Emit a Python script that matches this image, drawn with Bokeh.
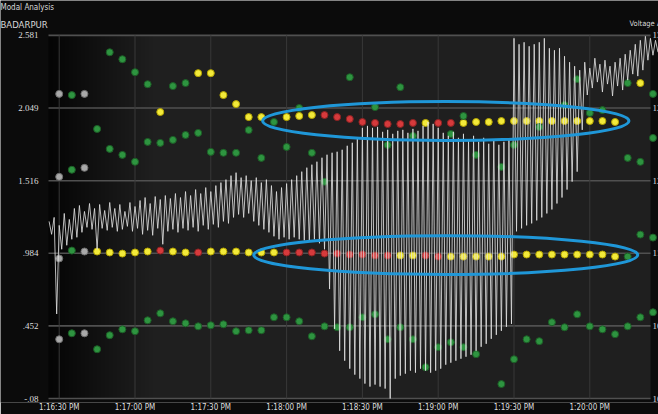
import numpy as np
import pandas as pd
from bokeh.plotting import figure
from bokeh.models import Range1d, FixedTicker, ColumnDataSource, Label, LabelSet
from bokeh.embed import file_html
from bokeh.resources import INLINE

DAY = "2014-06-10 "

def ms(t):
    return pd.Timestamp(DAY + t).value / 1e6

# ---------------- axes ----------------
x_tick_times = ["13:16:30", "13:17:00", "13:17:30", "13:18:00", "13:18:30",
                "13:19:00", "13:19:30", "13:20:00"]
x_tick_labels = ["1:16:30 PM", "1:17:00 PM", "1:17:30 PM", "1:18:00 PM", "1:18:30 PM",
                 "1:19:00 PM", "1:19:30 PM", "1:20:00 PM"]
y_ticks = [-0.08, 0.452, 0.984, 1.516, 2.049, 2.581]
y_tick_labels = ["-.08", ".452", ".984", "1.516", "2.049", "2.581"]
volt_ticks = [100.0, 107.3, 114.6, 121.9, 129.2, 136.5]
volt_tick_labels = ["100.0", "107.3", "114.6", "121.9", "129.2", "136.5"]
title_text = "Modal Analysis"
station_text = "BADARPUR"
volt_title = "Voltage A"

# ---------------- modal dots (5 s slots) ----------------
slot_start = "13:16:30"
slot_step_s = 5
n_slots = 48

mode1_slot = [0, 1, 2] + list(range(4, 48))
mode1_val = [2.152, 2.143, 2.152,
             2.457, 2.406, 2.311, 2.223, 2.019, 2.209, 2.231,
             2.304, 2.304, 2.143, 2.077, 1.982, 1.982, 1.946, 1.982, 1.990, 1.997,
             1.997, 1.982, 1.968, 1.946, 1.939, 1.931, 1.931, 1.939, 1.939, 1.939,
             1.939, 1.939, 1.946, 1.946, 1.953, 1.953, 1.953, 1.953, 1.953, 1.953,
             1.953, 1.953, 1.953, 1.946,
             2.231, 2.231, 2.152]
mode1_col = "gGg" + "GGGGyGG" + "yyyyyyGyyy" + "rrrrrrrryr" + "ryyyyyyyyy" + "yyyy" + "GyG"

mode2_slot = list(range(0, 17)) + [18, 19, 20, 21, 23, 25, 26, 27, 28,
                                   31, 32, 33, 35, 36, 38, 40, 41, 42, 43, 45, 46, 47]
mode2_val = [1.544, 1.596, 1.610, 1.895, 1.749, 1.705, 1.654, 1.800, 1.793, 1.815,
             1.851, 1.866, 1.727, 1.720, 1.720, 1.887, 1.683,
             1.763, 2.048, 1.720, 1.508, 2.274, 2.055, 1.778, 2.201, 1.844,
             1.858, 1.990, 1.705, 1.617, 1.778, 1.909, 2.070, 2.260, 2.012, 2.033,
             1.683, 1.654, 1.829]
mode2_col = "gGg" + "G" * 36

mode3_slot = list(range(0, 46))
mode3_val = [0.946, 1.004, 0.997, 0.997, 0.990, 0.982, 0.990, 0.997, 1.004, 0.997,
             0.990, 0.990, 0.997, 0.997, 0.997, 0.990, 0.990, 0.990, 0.990, 0.990,
             0.990, 0.982, 0.982, 0.975, 0.975, 0.968, 0.968, 0.968, 0.968, 0.968,
             0.960, 0.960, 0.960, 0.960, 0.960, 0.960, 0.975, 0.975, 0.975, 0.975,
             0.975, 0.975, 0.975, 0.975, 0.960, 0.960]
mode3_col = "gGg" + "yyyyy" + "r" + "yy" + "r" + "yyyyyy" + "rrrrrrrrr" + "yy" + "rr" + "y" * 14 + "G"

mode4_slot = [46, 47]
mode4_val = [1.121, 1.099]
mode4_col = "GG"

mode5_slot = list(range(0, 34)) + list(range(35, 48))
mode5_val = [0.354, 0.398, 0.398, 0.281, 0.384, 0.427, 0.413, 0.493, 0.544, 0.486,
             0.471, 0.449, 0.457, 0.464, 0.413, 0.420, 0.420, 0.515, 0.515, 0.486,
             0.376, 0.449, 0.442, 0.442, 0.515, 0.537, 0.354, 0.442, 0.354, 0.150,
             0.296, 0.332, 0.296, 0.245,
             0.026, 0.208, 0.354, 0.340, 0.479, 0.442, 0.537, 0.449, 0.427, 0.391,
             0.449, 0.515, 0.552]
mode5_col = "gGg" + "G" * 44

# ---------------- voltage A trace (2 s cycles: high, low) ----------------
volt_start = "13:16:26"
volt_step_s = 1
volt_hi = [117.8, 118.2, 117.4, 118.6, 118.0, 119.1, 119.4, 118.8, 119.6, 119.1,
           119.5, 118.9, 119.7, 119.1, 119.5, 118.8, 119.7, 119.3, 119.9, 120.2,
           119.6, 120.3, 120.0, 120.4, 120.1, 120.6, 120.2, 120.8, 120.4, 121.0,
           120.6, 121.2, 120.8, 121.4, 121.7, 122.0, 122.4, 122.7, 122.2, 122.4,
           121.9, 122.2, 121.7, 122.0, 121.4, 120.8, 121.2, 121.6, 122.0, 122.4,
           122.8, 123.2, 123.5, 123.8, 124.2, 124.5, 124.7, 124.8, 125.0, 125.4,
           125.7, 126.2, 127.2, 127.4, 127.2, 127.3, 126.8, 127.0, 126.6, 126.9,
           127.0, 126.7, 127.1, 126.9, 127.4, 127.8, 127.6, 127.2, 126.7, 126.4,
           126.8, 126.2, 126.6, 126.0, 126.4, 125.8, 126.2, 125.6, 126.0, 125.5,
           125.8, 126.0, 136.2, 135.6, 135.8, 135.4, 135.6, 135.8, 136.2, 135.2,
           135.0, 135.2, 134.4, 133.8, 133.4, 133.0, 133.8, 133.2, 134.2, 133.6,
           134.0, 133.4, 133.8, 134.2, 134.6, 135.0, 135.6, 136.0, 136.4, 136.2,
           136.0]
volt_lo = [116.5, 108.5, 115.0, 115.4, 116.0, 116.2, 116.7, 117.2, 117.0, 115.0,
           117.1, 116.9, 117.2, 116.8, 117.0, 117.3, 116.8, 117.1, 116.5, 116.9,
           116.4, 117.1, 115.5, 116.8, 117.0, 116.7, 117.1, 116.9, 117.2, 116.8,
           117.4, 117.0, 117.5, 117.2, 117.8, 117.6, 118.2, 118.5, 118.2, 118.6,
           117.8, 117.4, 117.0, 116.7, 116.3, 116.0, 116.2, 116.0, 116.2, 116.0,
           115.9, 115.8, 116.0, 115.6, 115.0, 111.0, 107.0, 104.8, 103.8, 103.0,
           102.4, 102.0, 101.5, 101.2, 101.4, 101.2, 101.0, 100.0, 102.0, 102.3,
           102.5, 102.8, 102.6, 103.0, 102.8, 102.6, 102.8, 103.0, 103.4, 103.6,
           103.8, 104.0, 104.2, 104.4, 104.8, 105.2, 105.5, 106.0, 106.4, 106.8,
           107.2, 107.5, 116.8, 117.1, 117.4, 117.6, 117.9, 118.2, 118.6, 119.0,
           119.6, 120.2, 121.0, 121.8, 122.8, 127.0, 130.5, 131.2, 131.8, 130.8,
           131.6, 130.4, 131.4, 131.0, 132.0, 132.6, 132.4, 133.0, 134.0, 134.5,
           134.8]

# ---------------- highlight ellipses ----------------
ell_center = ["13:19:03", "13:19:03"]
ell_value = [1.953, 0.971]
ell_width_s = [145.0, 152.0]
ell_height = [0.285, 0.285]

# ---------------- styles / layout geometry ----------------
FILL = {"g": "#a9a9a9", "G": "#2e9440", "y": "#f3ea3a", "r": "#d63a3c"}
EDGE = {"g": "#6e6e6e", "G": "#1c5e26", "y": "#b4a400", "r": "#8c2222"}
FONT = "Liberation Sans Narrow, DejaVu Sans Condensed, sans-serif"
W, H, AXIS_H = 658, 414, 10
FRAME_B = H - AXIS_H
PLOT_L, PLOT_R, PLOT_T, PLOT_B = 48, 650, 35, 400   # plot box in page pixels
TICK0_PX, PX_PER_30S = 58.7, 75.8


def x_at(px):
    return ms(x_tick_times[0]) + (px - TICK0_PX) * 30000.0 / PX_PER_30S


def y_at(py):
    return y_ticks[-1] - (py - PLOT_T) * (y_ticks[-1] - y_ticks[0]) / (PLOT_B - PLOT_T)


def v_at(py):
    return volt_ticks[-1] - (py - PLOT_T) * (volt_ticks[-1] - volt_ticks[0]) / (PLOT_B - PLOT_T)


p = figure(width=W, height=H, x_axis_type="datetime", y_axis_location=None,
           x_range=Range1d(x_at(0), x_at(W)), y_range=Range1d(y_at(FRAME_B), y_at(0)),
           output_backend="svg", toolbar_location=None,
           min_border_left=0, min_border_right=0, min_border_top=0, min_border_bottom=AXIS_H,
           background_fill_color="#0b0b0b", border_fill_color="#0b0b0b")
p.outline_line_color = None
p.extra_y_ranges = {"volt": Range1d(v_at(FRAME_B), v_at(0))}
p.xgrid.grid_line_color = None
p.ygrid.grid_line_color = None

# plot-area background (dark on the left)
ncol = 301
frac = np.linspace(0, 1, ncol)
shade = np.clip(5 + (31 - 5) * frac / 0.17, 5, 31).astype(np.uint8)
img = np.zeros((1, ncol), dtype=np.uint32)
view = img.view(dtype=np.uint8).reshape((1, ncol, 4))
view[0, :, 0] = shade
view[0, :, 1] = shade
view[0, :, 2] = shade
view[0, :, 3] = 255
bg = p.image_rgba(image=[img], x=x_at(PLOT_L), y=y_ticks[0],
                  dw=x_at(PLOT_R) - x_at(PLOT_L), dh=y_ticks[-1] - y_ticks[0])
bg.level = "image"

# grid lines confined to the plot box
xt = [ms(t) for t in x_tick_times]
p.segment(x0=x_at(PLOT_L), x1=x_at(PLOT_R), y0=y_ticks, y1=y_ticks,
          line_color="#505050", line_width=1.6)
p.segment(x0=xt, x1=xt, y0=y_ticks[0], y1=y_ticks[-1], line_color="#383838", line_width=1)

# bottom time axis
p.xaxis.ticker = FixedTicker(ticks=xt)
p.xaxis.major_label_overrides = {t: l for t, l in zip(xt, x_tick_labels)}
p.xaxis.axis_line_color = None
p.xaxis.major_tick_line_color = None
p.xaxis.minor_tick_line_color = None
p.xaxis.major_tick_out = 0
p.xaxis.major_tick_in = 0
p.xaxis.major_label_text_color = "#dedede"
p.xaxis.major_label_text_font = FONT
p.xaxis.major_label_text_font_size = "8px"
p.xaxis.major_label_standoff = 0

# dots
slot_ms = [ms(slot_start) + i * slot_step_s * 1000 for i in range(n_slots)]
for slots, vals, cols in [(mode1_slot, mode1_val, mode1_col), (mode2_slot, mode2_val, mode2_col),
                          (mode3_slot, mode3_val, mode3_col), (mode4_slot, mode4_val, mode4_col),
                          (mode5_slot, mode5_val, mode5_col)]:
    src = ColumnDataSource(dict(x=[slot_ms[s] for s in slots], y=vals,
                                fill=[FILL[c] for c in cols], edge=[EDGE[c] for c in cols]))
    p.scatter("x", "y", source=src, size=7, fill_color="fill", line_color="edge", line_width=1)

# voltage trace
vy = np.column_stack([volt_hi, volt_lo]).ravel()
vx = ms(volt_start) + np.arange(len(vy)) * volt_step_s * 1000
p.line(vx, vy, y_range_name="volt", line_color="#e2e2e2", line_alpha=0.82, line_width=1)

# ellipses
p.ellipse(x=[ms(c) for c in ell_center], y=ell_value,
          width=[w * 1000 for w in ell_width_s], height=ell_height,
          fill_color=None, line_color="#1f97d8", line_width=3)

# left value labels
lsrc = ColumnDataSource(dict(y=y_ticks, text=y_tick_labels))
p.add_layout(LabelSet(x=x_at(38), y="y", text="text", source=lsrc,
                      text_font=FONT, text_font_size="9px", text_color="#dedede",
                      text_align="right", text_baseline="middle"))

# right voltage labels (cut by the page edge as in the original)
rsrc = ColumnDataSource(dict(y=volt_ticks, text=volt_tick_labels))
p.add_layout(LabelSet(x=x_at(652), y="y", text="text", source=rsrc, y_range_name="volt",
                      text_font=FONT, text_font_size="9px", text_color="#dedede",
                      text_align="left", text_baseline="middle"))

# header texts
p.add_layout(Label(x=x_at(0), y=y_at(7.5), text=title_text, text_baseline="middle",
                   text_font=FONT, text_font_size="8px", text_color="#d8d8d8"))
p.add_layout(Label(x=x_at(0), y=y_at(24.5), text=station_text, text_baseline="middle",
                   text_font=FONT, text_font_size="9.5px", text_color="#d8d8d8"))
p.add_layout(Label(x=x_at(629), y=y_at(23.5), text=volt_title, text_baseline="middle",
                   text_font=FONT, text_font_size="7.5px", text_color="#d8d8d8"))

open("out.html", "w").write(file_html(p, INLINE))
